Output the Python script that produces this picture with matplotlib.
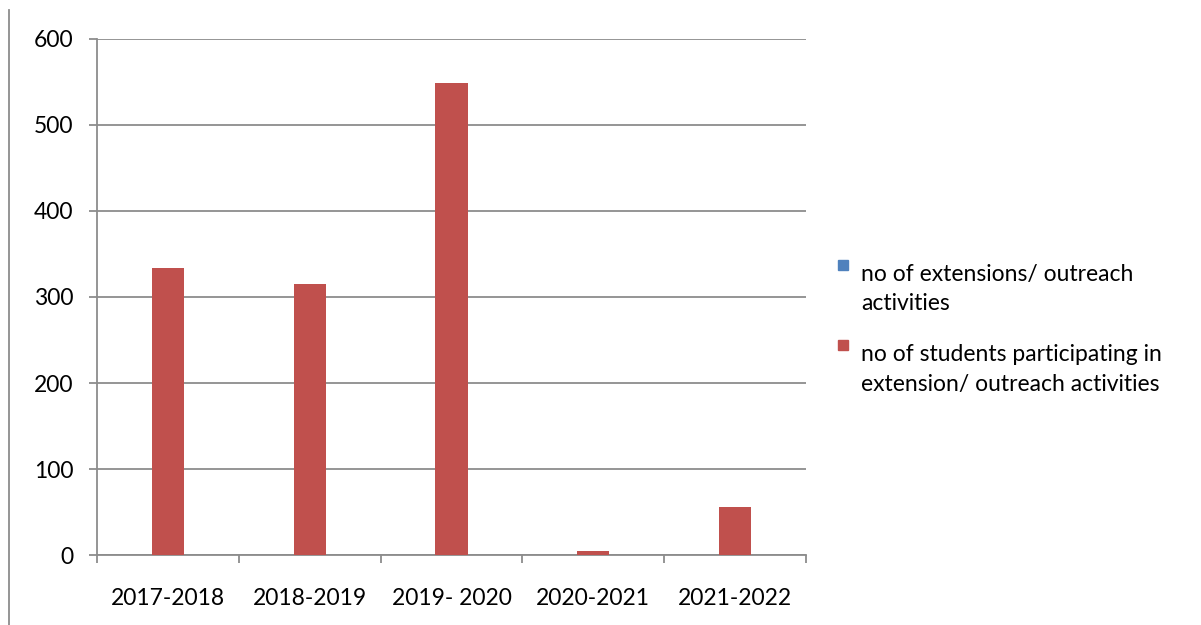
import numpy as np
import matplotlib.pyplot as plt
from matplotlib.patches import Rectangle
from matplotlib.lines import Line2D

plt.rcParams['font.family'] = ['Lato', 'DejaVu Sans']

# --- data ---
years = ['2017-2018', '2018-2019', '2019- 2020', '2020-2021', '2021-2022']
activities = [0, 0, 0, 0, 0]
students = [334, 315, 549, 5, 56]
series_names = ['no of extensions/ outreach\nactivities',
                'no of students participating in\nextension/ outreach activities']
colors = ['#4F81BD', '#C0504D']

fig = plt.figure(figsize=(12.01, 6.25), dpi=100)
ax = fig.add_axes([97 / 1201, 70 / 625, 709 / 1201, 516 / 625])

x = np.arange(len(years))
w = 0.226
ax.bar(x, activities, width=w, color=colors[0], zorder=3)
ax.bar(x, students, width=w, color=colors[1], zorder=3)

ax.set_xlim(-0.5, len(years) - 0.5)
ax.set_ylim(0, 600)
ax.set_yticks(range(0, 601, 100))
ax.yaxis.grid(True, color='#8c8c8c', linewidth=1.3, zorder=0)

# ticks between categories, labels at centres
fs = 16.5
ax.set_xticks(np.arange(-0.5, len(years), 1.0))
ax.set_xticklabels([])
ax.set_xticks(x, minor=True)
ax.set_xticklabels(years, minor=True)
ax.tick_params(axis='x', which='minor', length=0, pad=24, labelsize=fs, colors='black')
ax.tick_params(axis='x', which='major', length=6, width=1.3, color='#8c8c8c', direction='out')
ax.tick_params(axis='y', length=6, width=1.3, color='#8c8c8c', pad=11, labelsize=fs)

for s in ['top', 'right']:
    ax.spines[s].set_visible(False)
for s in ['left', 'bottom']:
    ax.spines[s].set_color('#8c8c8c')
    ax.spines[s].set_linewidth(1.3)

# legend drawn by hand (Excel style, square aligned with first line)
leg_y = [265, 345]
for c, name, yy in zip(colors, series_names, leg_y):
    fig.add_artist(Rectangle((838 / 1201, 1 - (yy + 5) / 625), 10 / 1201, 10 / 625,
                             transform=fig.transFigure, color=c))
    fig.text(861 / 1201, 1 - (yy - 1) / 625, name, fontsize=fs, va='top',
             linespacing=1.5)

# left border line of the frame
fig.add_artist(Line2D([9 / 1201, 9 / 1201], [0, 1 - 10 / 625],
                      transform=fig.transFigure, color='#8c8c8c', linewidth=1.3))

plt.savefig('out.png', dpi=100)
